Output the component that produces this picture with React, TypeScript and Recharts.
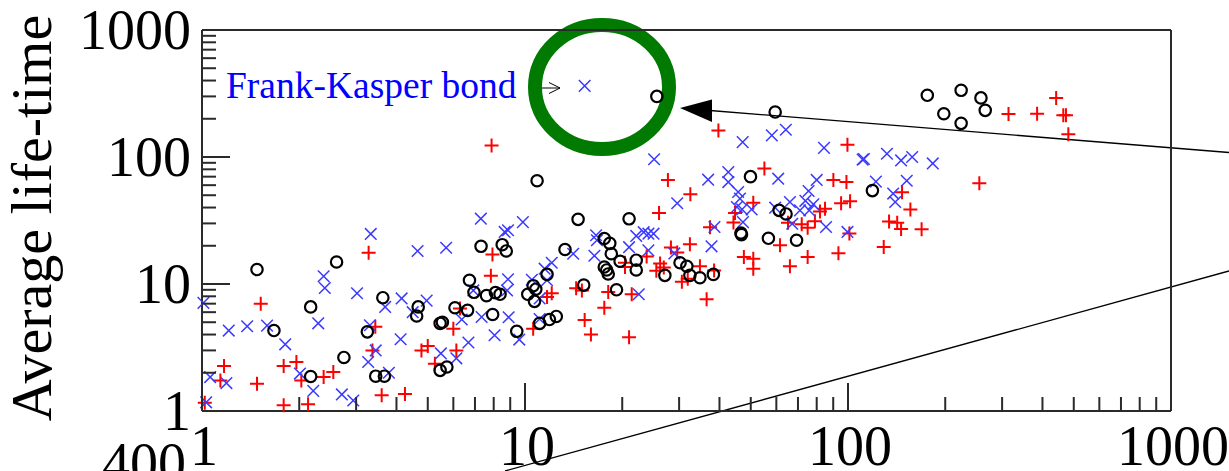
import { Customized, Scatter, ScatterChart, XAxis, YAxis } from "recharts";

// black circles
const circlePts: [number, number][] = [
  [1.48, 13.0], [1.67, 4.3], [2.17, 6.6], [2.17, 1.87], [2.61, 14.9], [2.75, 2.64],
  [3.25, 4.2], [3.45, 1.88], [3.67, 1.88], [3.63, 7.8], [4.67, 6.6], [4.62, 5.6],
  [5.46, 2.09], [5.73, 2.22], [5.46, 4.9], [5.55, 5.0], [6.07, 6.5], [6.64, 6.2],
  [6.73, 10.7], [6.95, 8.6], [7.31, 19.8], [7.6, 8.1], [7.94, 5.75], [8.1, 8.55],
  [8.37, 8.3], [8.5, 20.4], [8.75, 18.2], [9.43, 4.24], [10.2, 8.3], [10.6, 9.7],
  [10.8, 9.1], [10.7, 7.3], [10.9, 65], [11.1, 4.9], [11.9, 5.25], [12.5, 5.55],
  [11.7, 11.9], [13.3, 18.7], [14.6, 32.3], [15.2, 9.8], [17.6, 22.8], [18.3, 20.9],
  [18.5, 17.3], [17.6, 13.6], [17.9, 12.9], [18.1, 12.0], [19.2, 9.0], [19.7, 15.1],
  [21.0, 32.6], [22.1, 15.4], [22.1, 12.9], [25.6, 300], [27.1, 11.7], [30.2, 14.7],
  [31.7, 13.8], [32.4, 11.7], [34.8, 11.2], [38.3, 11.9], [46.6, 25.2], [46.8, 24.5],
  [49.9, 70], [56.7, 22.9], [59.5, 226], [61.2, 38.0], [64.3, 35.6], [69.3, 22.1],
  [119, 54.4], [176, 306], [198, 219], [224, 335], [224, 184], [258, 292], [266, 233],
];

// red pluses
const plusPts: [number, number][] = [
  [1.02, 1.16], [1.17, 2.26], [1.14, 1.74], [1.48, 1.64], [1.52, 7.0], [1.79, 2.26],
  [1.96, 2.43], [2.03, 1.74], [1.79, 1.11], [2.13, 1.13], [2.38, 1.85], [2.55, 2.03],
  [3.28, 17.6], [3.44, 4.6], [3.37, 3.0], [3.6, 1.33], [4.25, 1.36], [4.78, 3.0],
  [5.0, 3.25], [5.26, 2.36], [6.0, 4.45], [6.13, 3.0], [6.29, 6.4], [7.88, 123],
  [7.93, 17.1], [7.84, 11.6], [10.6, 4.45], [11.7, 7.9], [12.1, 8.45], [15.3, 5.2],
  [16.0, 4.0], [21.0, 3.8], [17.6, 6.5], [14.4, 9.25], [15.0, 8.9], [18.1, 8.65],
  [21.4, 8.3], [20.4, 14.7], [20.4, 13.6], [23.8, 16.5], [26.0, 36.2], [26.2, 14.5],
  [25.5, 12.7], [26.9, 13.5], [27.7, 66], [32.5, 51], [28.3, 19.4], [29.6, 17.7],
  [32.4, 20.6], [30.6, 10.4], [31.9, 11.0], [34.8, 13.8], [38.5, 12.8], [36.5, 7.6],
  [37.4, 28.0], [39.7, 162], [44.7, 36.2], [44.2, 30.5], [47.6, 16.3], [50.9, 43.6],
  [50.9, 15.8], [50.9, 13.2], [55.1, 81], [61.6, 20.2], [65.2, 30.3], [66.1, 13.8],
  [71.9, 29.5], [75, 27.7], [79, 31.2], [75, 16.3], [81.9, 37.3], [90.1, 66],
  [98.9, 63.5], [84.9, 39.2], [95.2, 43.2], [101.5, 44.9], [99.6, 125], [93.4, 17.5],
  [101, 25], [129, 19.6], [134, 31.1], [142, 30.3], [146, 27.1], [169, 27],
  [147, 52.7], [156, 38.6], [255, 62], [314, 218], [385, 219], [441, 292],
  [464, 213], [473, 213], [481, 151],
];

// blue crosses
const crossPts: [number, number][] = [
  [1.01, 7.1], [1.06, 1.85], [1.03, 1.17], [1.21, 4.3], [1.19, 1.66], [1.38, 4.65],
  [1.59, 4.7], [1.81, 3.35], [2.01, 1.97], [2.21, 1.44], [2.29, 4.9], [2.38, 11.5],
  [2.4, 9.3], [2.71, 1.35], [2.94, 1.21], [3.02, 8.45], [3.33, 24.8], [3.31, 4.73],
  [3.27, 2.43], [3.45, 3.0], [3.69, 6.6], [3.79, 2.0], [4.15, 7.7], [4.65, 18.2],
  [4.49, 6.0], [4.96, 7.4], [4.12, 3.67], [5.7, 19.3], [5.49, 2.84], [6.13, 2.6],
  [6.37, 5.25], [6.68, 3.46], [6.92, 8.9], [7.3, 32.7], [7.34, 5.5], [8.05, 3.95],
  [8.65, 25.7], [8.86, 26.5], [8.86, 10.9], [8.8, 8.9], [8.9, 5.47], [9.6, 3.65],
  [9.85, 30.7], [10.5, 10.8], [11.7, 10.7], [11.1, 5.3], [11.1, 7.7], [11.5, 13.2],
  [12.1, 14.7], [14.1, 17.3], [16.4, 16.7], [16.6, 24.2], [16.7, 22.1], [15.3, 363],
  [21.0, 19.5], [22.1, 23.9], [23.3, 25.6], [24.1, 24.9], [25.0, 24.9], [24.1, 18.4],
  [22.5, 8.3], [25.1, 96], [29.6, 43.2], [29.0, 17.4], [36.9, 66.3], [37.8, 19.8],
  [38.6, 28.1], [42.6, 76], [42.6, 63.5], [45.7, 53], [46.3, 47], [45.3, 40.4],
  [47.0, 38.7], [50.3, 38.7], [47.3, 30.7], [47.2, 131], [58.1, 148], [64.2, 164],
  [60.8, 67.5], [59.5, 39.9], [80, 66], [84.3, 118], [75.5, 54], [73.8, 45.2],
  [78.1, 42.4], [66.1, 44.2], [71, 38], [75.9, 38], [67.2, 29.8], [85.5, 28.1],
  [99.6, 25.7], [111, 95.4], [112, 96.5], [132, 106], [146, 94], [158, 100],
  [183, 89], [122, 64], [152, 65], [138, 51.5], [140, 44.2],
];

const logTicks = [
  1, 2, 3, 4, 5, 6, 7, 8, 9, 10, 20, 30, 40, 50, 60, 70, 80, 90,
  100, 200, 300, 400, 500, 600, 700, 800, 900, 1000,
];
const majorTicks = [1, 10, 100, 1000];

const SERIF = '"Liberation Serif", "Times New Roman", serif';
const FRAME = "#2a2a2a";

const toRows = (pts: [number, number][]) => pts.map(([x, y]) => ({ x, y }));

function makeTick(side: "bottom" | "left" | "top" | "right") {
  return (props: any) => {
    const { x, y, payload } = props;
    const major = majorTicks.includes(payload.value);
    const len = major ? 28 : 14;
    let line;
    if (side === "bottom") line = <line x1={x} y1={y} x2={x} y2={y - len} />;
    else if (side === "top") line = <line x1={x} y1={y} x2={x} y2={y + len} />;
    else if (side === "left") line = <line x1={x} y1={y} x2={x + len} y2={y} />;
    else line = <line x1={x} y1={y} x2={x - len} y2={y} />;
    return (
      <g stroke={FRAME} strokeWidth={2}>
        {line}
        {major && side === "bottom" && (
          <text x={x + 2} y={y + 54} textAnchor="middle" fontSize={56} fontFamily={SERIF} fill="#000" stroke="none">
            {payload.value}
          </text>
        )}
        {major && side === "left" && (
          <text x={x - 11} y={y + 19} textAnchor="end" fontSize={56} fontFamily={SERIF} fill="#000" stroke="none">
            {payload.value}
          </text>
        )}
      </g>
    );
  };
}

const CircleMark = (p: any) => (
  <circle cx={p.cx} cy={p.cy} r={5.7} fill="none" stroke="#000" strokeWidth={2.2} />
);
const PlusMark = (p: any) => (
  <path
    d={`M${p.cx - 7},${p.cy}H${p.cx + 7}M${p.cx},${p.cy - 7}V${p.cy + 7}`}
    stroke="#ff0000"
    strokeWidth={2}
  />
);
const CrossMark = (p: any) => (
  <path
    d={`M${p.cx - 5.8},${p.cy - 5.8}L${p.cx + 5.8},${p.cy + 5.8}M${p.cx + 5.8},${p.cy - 5.8}L${p.cx - 5.8},${p.cy + 5.8}`}
    stroke="#3a3aff"
    strokeWidth={1.5}
  />
);

function Annotations() {
  return (
    <g>
      <text
        x={51}
        y={218}
        transform="rotate(-90 51 218)"
        textAnchor="middle"
        fontSize={58}
        fontFamily={SERIF}
        fill="#000"
      >
        Average life-time
      </text>
      <text x={186} y={482} textAnchor="end" fontSize={56} fontFamily={SERIF} fill="#000">
        400
      </text>
      <text x={226} y={98} fontSize={37.5} fontFamily={SERIF} fill="#0000ff">
        Frank-Kasper bond
      </text>
      <path d="M542,88H560M549,82.5L560,88L549,93.5" stroke="#000" strokeWidth={1} fill="none" />
      <ellipse cx={602} cy={87} rx={67} ry={62} fill="none" stroke="#007a00" strokeWidth={14} />
      <line x1={710} y1={110.5} x2={1229} y2={152.5} stroke="#000" strokeWidth={1.3} />
      <polygon points="680,108 712,99.5 712,122" fill="#000" />
      <line x1={505} y1={471} x2={1229} y2={271} stroke="#000" strokeWidth={1.3} />
    </g>
  );
}

export default function App() {
  return (
    <div style={{ position: "absolute", left: 0, top: 0, width: 1229, height: 471, background: "#fff" }}>
      <ScatterChart width={1229} height={471} margin={{ top: 29, right: 57, bottom: 0, left: 0 }}>
        <XAxis
          dataKey="x"
          type="number"
          scale="log"
          domain={[1, 1000]}
          ticks={logTicks}
          interval={0}
          height={60}
          tickSize={0}
          tickMargin={0}
          tickLine={false}
          axisLine={{ stroke: FRAME, strokeWidth: 2 }}
          tick={makeTick("bottom")}
        />
        <XAxis
          xAxisId="top"
          orientation="top"
          type="number"
          scale="log"
          domain={[1, 1000]}
          ticks={logTicks}
          interval={0}
          height={1}
          tickSize={0}
          tickMargin={0}
          tickLine={false}
          axisLine={{ stroke: FRAME, strokeWidth: 2 }}
          tick={makeTick("top")}
        />
        <YAxis
          dataKey="y"
          type="number"
          scale="log"
          domain={[1, 1000]}
          ticks={logTicks}
          interval={0}
          width={202}
          tickSize={0}
          tickMargin={0}
          tickLine={false}
          axisLine={{ stroke: FRAME, strokeWidth: 2 }}
          tick={makeTick("left")}
        />
        <YAxis
          yAxisId="right"
          orientation="right"
          type="number"
          scale="log"
          domain={[1, 1000]}
          ticks={logTicks}
          interval={0}
          width={1}
          tickSize={0}
          tickMargin={0}
          tickLine={false}
          axisLine={{ stroke: FRAME, strokeWidth: 2 }}
          tick={makeTick("right")}
        />
        <Scatter data={toRows(plusPts)} shape={PlusMark} isAnimationActive={false} />
        <Scatter data={toRows(crossPts)} shape={CrossMark} isAnimationActive={false} />
        <Scatter data={toRows(circlePts)} shape={CircleMark} isAnimationActive={false} />
        <Customized component={Annotations} />
      </ScatterChart>
    </div>
  );
}
